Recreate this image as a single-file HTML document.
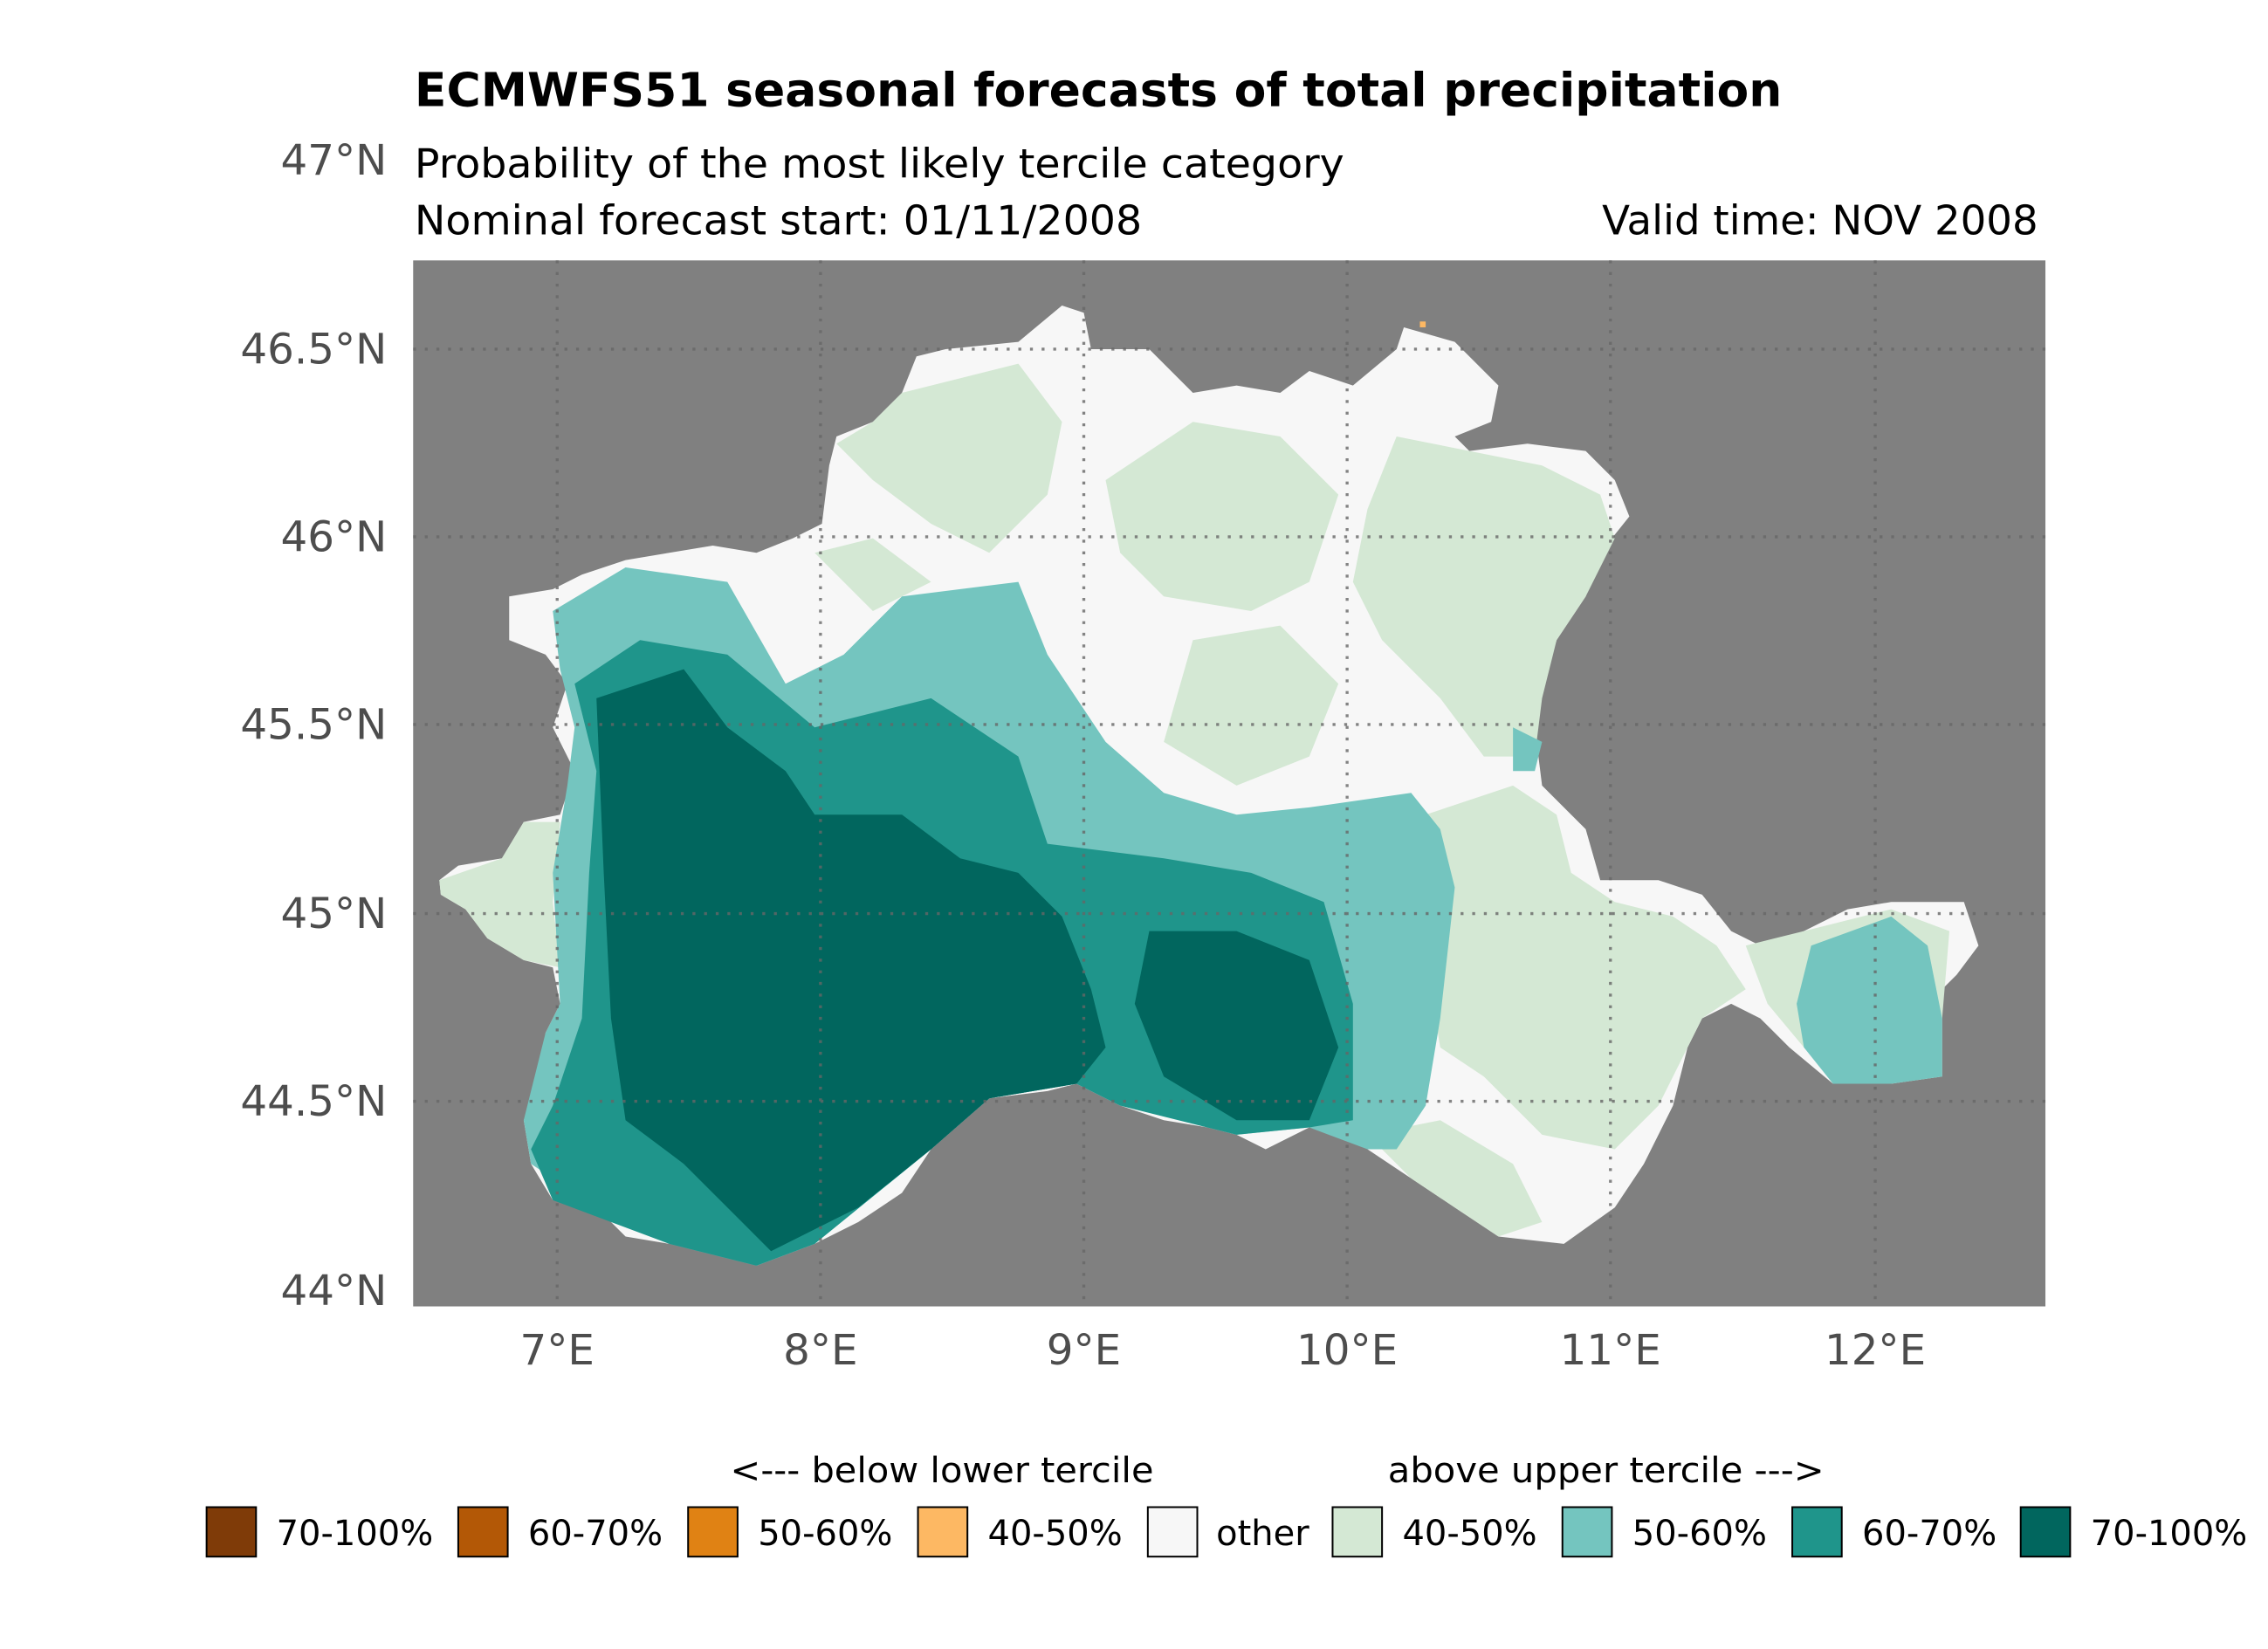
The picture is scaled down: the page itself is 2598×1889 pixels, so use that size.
<!DOCTYPE html>
<html><head><meta charset="utf-8"><style>html,body{margin:0;padding:0;background:#fff}svg{display:block}</style></head>
<body>
<svg width="2598" height="1889" viewBox="0 0 1559 1133.5" preserveAspectRatio="none" xmlns="http://www.w3.org/2000/svg" font-family="'DejaVu Sans','Liberation Sans',sans-serif">
<rect width="1559" height="1134" fill="#fff"/>
<rect x="284" y="179" width="1122" height="719" fill="#808080"/>
<polygon fill="#f7f7f7" points="302,605 315,595 345,590 360,565 385,560 395,530 380,500 390,470 375,450 350,440 350,410 380,405 400,395 430,385 460,380 490,375 520,380 545,370 565,360 570,320 575,300 600,290 620,270 630,245 650,240 700,235 730,210 745,215 750,240 790,240 820,270 850,265 880,270 900,255 930,265 960,240 965,225 1000,235 1030,265 1025,290 1000,300 1010,310 1050,305 1090,310 1110,330 1120,355 1100,380 1090,410 1070,440 1060,470 1055,500 1060,540 1090,570 1100,605 1140,605 1170,615 1190,640 1210,650 1240,640 1270,625 1300,620 1350,620 1360,650 1345,670 1335,680 1335,740 1300,745 1260,745 1230,720 1210,700 1190,690 1170,700 1160,720 1150,760 1130,800 1110,830 1075,855 1030,850 1000,830 970,810 940,790 920,770 900,775 870,790 850,780 830,775 800,770 770,760 740,745 720,750 680,755 640,790 620,820 590,840 560,855 520,870 500,855 460,855 430,850 410,830 380,825 365,800 360,770 370,745 375,710 385,690 380,665 360,660 335,645 320,625 303,615"/>
<g fill="#d4e8d4">
<polygon points="620,270 700,250 730,290 720,340 680,380 640,360 600,330 575,305 600,290"/>
<polygon points="760,330 820,290 880,300 920,340 900,400 860,420 800,410 770,380"/>
<polygon points="960,300 1010,310 1060,320 1100,340 1110,370 1090,410 1070,440 1060,480 1055,520 1020,520 990,480 950,440 930,400 940,350"/>
<polygon points="820,440 880,430 920,470 900,520 850,540 800,510"/>
<polygon points="980,560 1040,540 1070,560 1080,600 1110,620 1150,630 1180,650 1200,680 1170,700 1160,720 1140,760 1110,790 1060,780 1020,740 990,720 980,660"/>
<polygon points="1200,650 1240,640 1300,625 1340,640 1335,700 1300,720 1240,720 1215,690"/>
<polygon points="940,780 990,770 1040,800 1060,840 1030,850 1000,830 970,810"/>
<polygon points="302,605 345,590 360,565 385,565 380,620 385,665 360,660 335,645 320,625 303,615"/>
<polygon points="560,380 600,370 640,400 600,420"/>
</g>
<g fill="#74c5bf">
<polygon points="380,420 430,390 500,400 540,470 580,450 620,410 700,400 720,450 760,510 800,545 850,560 900,555 970,545 990,570 1000,610 990,700 980,760 960,790 940,790 900,775 850,780 770,760 740,745 680,755 640,790 560,855 520,870 460,855 410,830 365,800 360,770 375,710 385,690 380,600 390,540 395,500 385,460"/>
<polygon points="1245,650 1300,630 1325,650 1335,700 1335,740 1300,745 1260,745 1240,720 1235,690"/>
<polygon points="1040,500 1060,510 1055,530 1040,530"/>
</g>
<polygon fill="#1f958b" points="395,470 440,440 500,450 560,500 600,490 640,480 700,520 720,580 800,590 860,600 910,620 930,690 930,770 900,775 850,780 770,760 740,745 680,755 640,790 560,855 520,870 460,855 420,840 380,825 365,790 380,760 400,700 405,600 410,530"/>
<g fill="#01665e">
<polygon points="410,480 470,460 500,500 540,530 560,560 620,560 660,590 700,600 730,630 750,680 760,720 740,745 680,755 640,790 590,830 530,860 510,840 470,800 430,770 420,700 415,600"/>
<polygon points="790,640 850,640 900,660 920,720 900,770 850,770 800,740 780,690"/>
</g>
<rect x="976" y="221" width="4" height="4" fill="#fdb863"/>
<g stroke="#666" stroke-width="2" stroke-dasharray="2,6" fill="none" opacity="0.8">
<line x1="383" y1="179" x2="383" y2="898"/><line x1="564" y1="179" x2="564" y2="898"/>
<line x1="745" y1="179" x2="745" y2="898"/><line x1="926" y1="179" x2="926" y2="898"/>
<line x1="1107" y1="179" x2="1107" y2="898"/><line x1="1289" y1="179" x2="1289" y2="898"/>
<line x1="284" y1="240" x2="1406" y2="240"/><line x1="284" y1="369" x2="1406" y2="369"/>
<line x1="284" y1="498" x2="1406" y2="498"/><line x1="284" y1="628" x2="1406" y2="628"/>
<line x1="284" y1="757" x2="1406" y2="757"/>
</g>
<text x="285" y="73" font-size="32" font-weight="bold" fill="#000" textLength="940" lengthAdjust="spacingAndGlyphs">ECMWFS51 seasonal forecasts of total precipitation</text>
<text x="285" y="122" font-size="28" fill="#000" textLength="639" lengthAdjust="spacingAndGlyphs">Probability of the most likely tercile category</text>
<text x="285" y="161" font-size="28" fill="#000" textLength="500" lengthAdjust="spacingAndGlyphs">Nominal forecast start: 01/11/2008</text>
<text x="1401" y="161" font-size="28" fill="#000" text-anchor="end">Valid time: NOV 2008</text>
<g font-size="29" fill="#4d4d4d" text-anchor="end">
<text x="266" y="120">47°N</text><text x="266" y="250">46.5°N</text><text x="266" y="379">46°N</text>
<text x="266" y="508">45.5°N</text><text x="266" y="638">45°N</text><text x="266" y="767">44.5°N</text><text x="266" y="897">44°N</text>
</g>
<g font-size="29" fill="#4d4d4d" text-anchor="middle">
<text x="383" y="938">7°E</text><text x="564" y="938">8°E</text><text x="745" y="938">9°E</text>
<text x="926" y="938">10°E</text><text x="1107" y="938">11°E</text><text x="1289" y="938">12°E</text>
</g>
<g font-size="24" fill="#000">
<text x="502" y="1019" textLength="291" lengthAdjust="spacingAndGlyphs">&lt;--- below lower tercile</text>
<text x="954" y="1019" textLength="300" lengthAdjust="spacingAndGlyphs">above upper tercile ---&gt;</text>
<g stroke="#000" stroke-width="1.2">
<rect x="142" y="1036" width="34" height="34" fill="#7f3b08"/>
<rect x="315" y="1036" width="34" height="34" fill="#b35806"/>
<rect x="473" y="1036" width="34" height="34" fill="#e08214"/>
<rect x="631" y="1036" width="34" height="34" fill="#fdb863"/>
<rect x="789" y="1036" width="34" height="34" fill="#f7f7f7"/>
<rect x="916" y="1036" width="34" height="34" fill="#d4e8d4"/>
<rect x="1074" y="1036" width="34" height="34" fill="#74c5bf"/>
<rect x="1232" y="1036" width="34" height="34" fill="#1f958b"/>
<rect x="1389" y="1036" width="34" height="34" fill="#01665e"/>
</g>
<text x="190" y="1062">70-100%</text><text x="363" y="1062">60-70%</text><text x="521" y="1062">50-60%</text>
<text x="679" y="1062">40-50%</text><text x="836" y="1062">other</text><text x="964" y="1062">40-50%</text>
<text x="1122" y="1062">50-60%</text><text x="1280" y="1062">60-70%</text><text x="1437" y="1062">70-100%</text>
</g>
</svg>
</body></html>
